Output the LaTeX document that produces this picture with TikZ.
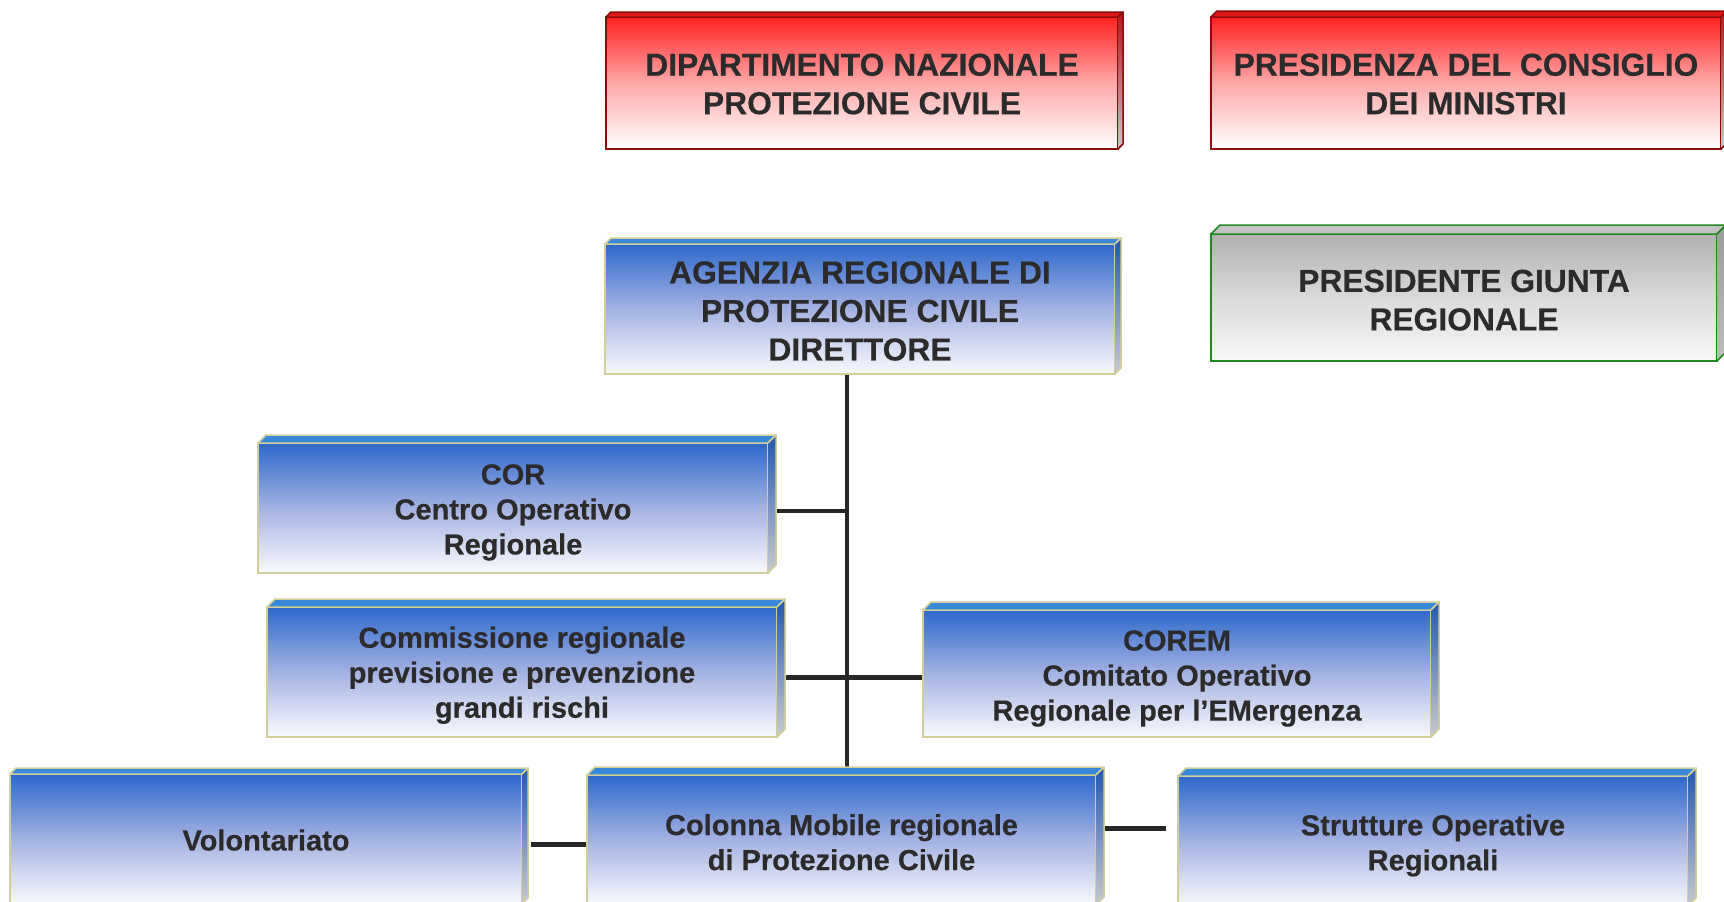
\documentclass[tikz,border=0pt]{standalone}
\usepackage{fontspec}
\setmainfont[BoldFeatures={FakeBold=0.4}]{Liberation Sans}
\usetikzlibrary{backgrounds,calc}
\definecolor{txt}{HTML}{2B2B2B}
\definecolor{khaki}{HTML}{D2CE9A}
\definecolor{blA}{HTML}{2E68CC}
\definecolor{blB}{HTML}{A4B2E2}
\definecolor{blC}{HTML}{FAFAFD}
\definecolor{blTop}{HTML}{3A88D8}
\definecolor{blSideA}{HTML}{2558B0}
\definecolor{blSideB}{HTML}{C8CACE}
\definecolor{rdA}{HTML}{FF2020}
\definecolor{rdB}{HTML}{FFA8A8}
\definecolor{rdC}{HTML}{FFFFFF}
\definecolor{rdLine}{HTML}{8B0A0A}
\definecolor{rdTop}{HTML}{E01818}
\definecolor{rdSideA}{HTML}{B01818}
\definecolor{rdSideB}{HTML}{C8C8C8}
\definecolor{grA}{HTML}{B0B0B0}
\definecolor{grB}{HTML}{DADADA}
\definecolor{grC}{HTML}{F8F8F8}
\definecolor{grLine}{HTML}{1E8A1E}
\definecolor{grTop}{HTML}{C4C4C4}
\definecolor{grSideA}{HTML}{9C9C9C}
\definecolor{grSideB}{HTML}{BDBDBD}
\definecolor{lineC}{HTML}{262626}
\newcommand\depthfaces[6]{%
  \filldraw[fill=#3, draw=#6, line width=1.5pt, line join=round]
    (#1.north west) -- ++(#2,-#2) -- ($(#1.north east)+(#2,-#2)$) -- (#1.north east) -- cycle;
  \shade[top color=#4, bottom color=#5]
    (#1.north east) -- ++(#2,-#2) -- ($(#1.south east)+(#2,-#2)$) -- (#1.south east) -- cycle;
  \draw[draw=#6, line width=1.5pt, line join=round]
    (#1.north east) -- ++(#2,-#2) -- ($(#1.south east)+(#2,-#2)$) -- (#1.south east);
}
\tikzset{
  orgbox/.style={rectangle, line width=2pt, outer sep=0pt, inner sep=0pt,
    minimum width=510pt, minimum height=130pt},
  boxtext/.style={align=center, text=txt, inner sep=0pt,
    font=\bfseries\fontsize{29}{35}\selectfont},
  bigtext/.style={boxtext, font=\bfseries\fontsize{31.8}{38.5}\selectfont},
  bluebox/.style={orgbox, draw=khaki, top color=blA, bottom color=blC, middle color=blB},
  redbox/.style={orgbox, draw=rdLine, top color=rdA, bottom color=rdC, middle color=rdB},
  graybox/.style={orgbox, draw=grLine, top color=grA, bottom color=grC, middle color=grB},
  thinlink/.style={draw=lineC, line width=3.5pt},
  thicklink/.style={draw=lineC, line width=5pt}
}
\begin{document}
\begin{tikzpicture}[x=1pt,y=-1pt]
\useasboundingbox (0,0) rectangle (1724,902);

\node[redbox, minimum width=512pt, minimum height=132pt] (dip) at (862,83) {};
\depthfaces{dip}{5}{rdTop}{rdSideA}{rdSideB}{rdLine}
\node[bigtext] (dipT) at ([yshift=-1pt]dip.center) {DIPARTIMENTO NAZIONALE\\PROTEZIONE CIVILE};

\node[redbox, minimum width=510pt, minimum height=132pt] (pres) at (1466,83) {};
\depthfaces{pres}{6}{rdTop}{rdSideA}{rdSideB}{rdLine}
\node[bigtext] (presT) at ([yshift=-1pt]pres.center) {PRESIDENZA DEL CONSIGLIO\\DEI MINISTRI};

\node[bluebox] (ag) at (860,309) {};
\depthfaces{ag}{6}{blTop}{blSideA}{blSideB}{khaki}
\node[bigtext] (agT) at ([yshift=-2pt]ag.center) {AGENZIA REGIONALE DI\\PROTEZIONE CIVILE\\DIRETTORE};

\node[graybox, minimum width=506pt, minimum height=127pt] (pg) at (1464,297.5) {};
\depthfaces{pg}{9}{grTop}{grSideA}{grSideB}{grLine}
\node[bigtext] (pgT) at ([yshift=-2.7pt]pg.center) {PRESIDENTE GIUNTA\\REGIONALE};

\node[bluebox] (cor) at (513,508) {};
\depthfaces{cor}{8}{blTop}{blSideA}{blSideB}{khaki}
\node[boxtext] (corT) at ([yshift=-4.4pt]cor.center) {COR\\Centro Operativo\\Regionale};

\node[bluebox] (com) at (522,672) {};
\depthfaces{com}{8}{blTop}{blSideA}{blSideB}{khaki}
\node[boxtext] (comT) at ([yshift=-3.3pt]com.center) {Commissione regionale\\previsione e prevenzione\\grandi rischi};

\node[bluebox, minimum width=508pt, minimum height=127pt] (corem) at (1177,673.5) {};
\depthfaces{corem}{8}{blTop}{blSideA}{blSideB}{khaki}
\node[boxtext] (coremT) at ([yshift=-5pt]corem.center) {COREM\\Comitato Operativo\\Regionale per l’EMergenza};

\node[bluebox, minimum width=512pt] (vol) at (266,839) {};
\depthfaces{vol}{6}{blTop}{blSideA}{blSideB}{khaki}
\node[boxtext] (volT) at ([yshift=-1.1pt]vol.center) {Volontariato};

\node[bluebox, minimum width=509pt] (col) at (841.5,840) {};
\depthfaces{col}{8}{blTop}{blSideA}{blSideB}{khaki}
\node[boxtext] (colT) at ([yshift=-2.2pt]col.center) {Colonna Mobile regionale\\di Protezione Civile};

\node[bluebox] (str) at (1433,841) {};
\depthfaces{str}{8}{blTop}{blSideA}{blSideB}{khaki}
\node[boxtext] (strT) at ([yshift=-4.4pt]str.center) {Strutture Operative\\Regionali};

\coordinate (vt) at ([xshift=242pt]ag.south west);
\coordinate (vb) at ([xshift=260pt,yshift=8pt]col.north west);
\coordinate (corR) at ([yshift=-3pt]cor.east);
\coordinate (comR) at ([yshift=-5pt]com.east);
\coordinate (volR) at ([xshift=9pt,yshift=-5pt]vol.east);
\coordinate (colR) at ([xshift=9pt,yshift=12pt]col.east);

\begin{pgfonlayer}{background}
\draw[thinlink] (vt) -- (vb);
\draw[thinlink] (corR) -- (corR -| vt);
\draw[thicklink] (comR) -- (comR -| corem.west);
\draw[thicklink] (volR) -- (volR -| col.west);
\draw[thicklink] (colR) -- ([xshift=-12pt]colR -| str.west);
\end{pgfonlayer}
\end{tikzpicture}
\end{document}
